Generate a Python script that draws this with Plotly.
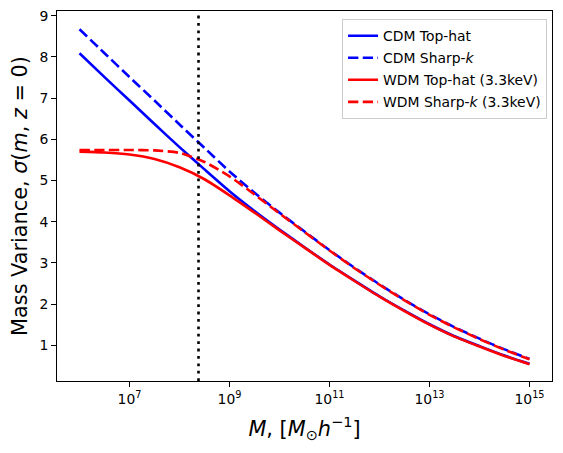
import plotly.graph_objects as go

# log10 of halo mass [M_sun / h]
log_mass = [6.0, 6.5, 7.0, 7.5, 8.0, 8.5, 9.0, 9.5, 10.0, 10.5,
            11.0, 11.5, 12.0, 12.5, 13.0, 13.5, 14.0, 14.5, 15.0]
mass = [10 ** v for v in log_mass]

cdm_tophat = [8.09, 7.51, 6.94, 6.37, 5.81, 5.27, 4.74, 4.26, 3.81, 3.38,
              2.96, 2.57, 2.19, 1.84, 1.51, 1.22, 0.98, 0.75, 0.55]
cdm_sharpk = [8.67, 8.09, 7.51, 6.94, 6.36, 5.79, 5.22, 4.70, 4.22, 3.76,
              3.31, 2.88, 2.48, 2.10, 1.75, 1.44, 1.16, 0.90, 0.67]
wdm_tophat = [5.70, 5.68, 5.63, 5.52, 5.32, 5.03, 4.64, 4.22, 3.79, 3.37,
              2.95, 2.56, 2.18, 1.83, 1.50, 1.21, 0.97, 0.74, 0.54]
wdm_sharpk = [5.74, 5.74, 5.74, 5.73, 5.67, 5.45, 5.10, 4.66, 4.20, 3.75,
              3.30, 2.87, 2.47, 2.09, 1.74, 1.43, 1.15, 0.89, 0.66]

mass_cut = 2.4e8

x_tickvals = [1e7, 1e9, 1e11, 1e13, 1e15]
x_ticktext = ["10<sup>7</sup>", "10<sup>9</sup>", "10<sup>11</sup>",
              "10<sup>13</sup>", "10<sup>15</sup>"]
y_tickvals = [1, 2, 3, 4, 5, 6, 7, 8, 9]

dashed = "10.3px,4.4px"
series = [
    ("CDM Top-hat", cdm_tophat, "#0000ff", "solid"),
    ("CDM Sharp-<i>k</i>", cdm_sharpk, "#0000ff", dashed),
    ("WDM Top-hat (3.3keV)", wdm_tophat, "#ff0000", "solid"),
    ("WDM Sharp-<i>k</i> (3.3keV)", wdm_sharpk, "#ff0000", dashed),
]

fig = go.Figure()
for i, (name, vals, color, dash) in enumerate(series):
    fig.add_trace(go.Scatter(
        x=mass, y=vals, mode="lines", name=name,
        legendgroup=f"g{i}",
        line=dict(color=color, width=2.6, dash=dash, shape="spline", smoothing=0.6),
    ))

fig.add_vline(x=mass_cut, line=dict(color="black", width=2.6, dash="2.8px,4.6px"))

font = "DejaVu Sans"
fig.update_layout(
    width=563, height=453,
    margin=dict(l=57, r=11, t=11, b=72),
    paper_bgcolor="white", plot_bgcolor="white",
    font=dict(family=font, size=13.9, color="black"),
    showlegend=True,
    legend=dict(
        x=0.99, y=0.978, xanchor="right", yanchor="top",
        bgcolor="rgba(255,255,255,0.8)", bordercolor="#cccccc", borderwidth=1,
        font=dict(family=font, size=13.9), tracegroupgap=1,
        traceorder="grouped",
    ),
    xaxis=dict(
        type="log", range=[5.55, 15.45],
        tickvals=x_tickvals, ticktext=x_ticktext,
        ticks="outside", ticklen=5, tickwidth=1, tickcolor="black",
        showline=True, linecolor="black", linewidth=1, mirror=True,
        showgrid=False, zeroline=False,
        tickfont=dict(family=font, size=13.9),
        title=dict(text="<i>M</i>, [<i>M</i><sub>⊙</sub><i>h</i><sup>−1</sup>]",
                   font=dict(family=font, size=20.8), standoff=15),
        automargin=False,
    ),
    yaxis=dict(
        range=[0.133, 9.114],
        tickvals=y_tickvals,
        ticks="outside", ticklen=5, tickwidth=1, tickcolor="black",
        showline=True, linecolor="black", linewidth=1, mirror=True,
        showgrid=False, zeroline=False,
        tickfont=dict(family=font, size=13.9),
        title=dict(text="Mass Variance, <i>σ</i>(<i>m</i>, <i>z</i> = 0)",
                   font=dict(family=font, size=20.8), standoff=6),
        automargin=False,
    ),
)

fig.write_html("out.html")
